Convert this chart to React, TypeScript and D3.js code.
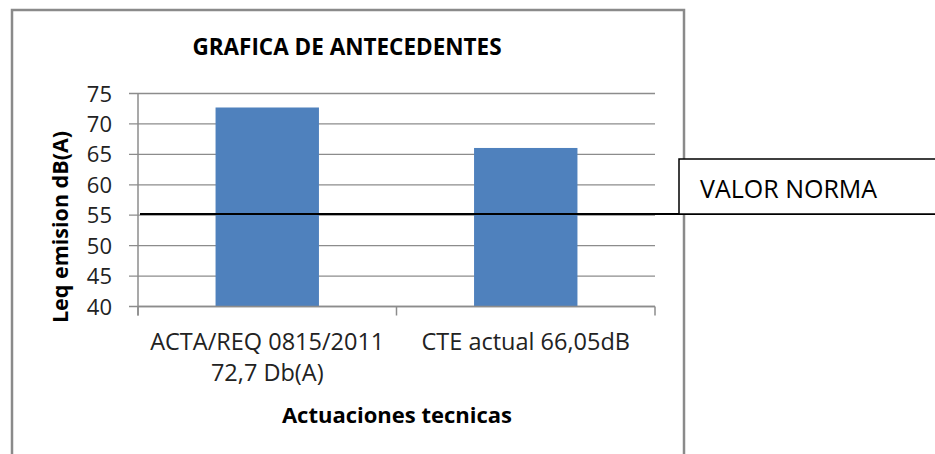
import React from 'react';
import * as d3 from 'd3';

// chart data
const categories = ['ACTA/REQ 0815/2011\n72,7 Db(A)', 'CTE actual 66,05dB'];
const values = [72.7, 66.05];
const yTicks = [40, 45, 50, 55, 60, 65, 70, 75];
const normValue = 55.2;
const normLabel = 'VALOR NORMA';
const title = 'GRAFICA DE ANTECEDENTES';
const yTitle = 'Leq emision dB(A)';
const xTitle = 'Actuaciones tecnicas';

const W = 935;
const H = 454;
const FONT = "'Open Sans', 'Noto Sans', sans-serif";
const GRID = '#8c8c8c';

export default function App() {
  // plot area
  const plot = { left: 138, right: 655, top: 93.5, bottom: 306.5 };

  const x = d3.scaleBand<string>()
    .domain(categories)
    .range([plot.left, plot.right])
    .paddingInner(0.6)
    .paddingOuter(0.3);

  // band used for tick marks / labels (no padding)
  const xCat = d3.scaleBand<string>()
    .domain(categories)
    .range([plot.left, plot.right]);

  const y = d3.scaleLinear()
    .domain([d3.min(yTicks)!, d3.max(yTicks)!])
    .range([plot.bottom, plot.top]);

  const normY = y(normValue);

  return (
    <div style={{ position: 'fixed', left: 0, top: 0 }}>
      <svg width={W} height={H} style={{ display: 'block', background: '#fff' }}>
        {/* outer chart frame */}
        <rect x={12} y={10} width={672} height={460} fill="#fff" stroke="#8a8a8a" strokeWidth={2.5} />

        <text x={347} y={55} textAnchor="middle" fontFamily={FONT} fontWeight="bold" fontSize={22.5} fill="#000">
          {title}
        </text>

        {/* gridlines + y ticks */}
        {yTicks.map(t => (
          <g key={t}>
            <line x1={plot.left - 9} x2={plot.right} y1={y(t)} y2={y(t)} stroke={GRID} strokeWidth={1.3} />
            <text x={112} y={y(t) + 8} textAnchor="end" fontFamily={FONT} fontSize={22} fill="#222">
              {t}
            </text>
          </g>
        ))}

        {/* bars */}
        {categories.map((c, i) => (
          <rect
            key={c}
            x={x(c)}
            y={y(values[i])}
            width={x.bandwidth()}
            height={plot.bottom - y(values[i])}
            fill="#4f81bd"
          />
        ))}

        {/* axes */}
        <line x1={plot.left} x2={plot.left} y1={plot.top} y2={plot.bottom + 9} stroke={GRID} strokeWidth={1.5} />
        <line x1={plot.left} x2={plot.right} y1={plot.bottom} y2={plot.bottom} stroke={GRID} strokeWidth={1.5} />
        {[...categories.map(c => xCat(c)!), plot.right].map((tx, i) => (
          <line key={i} x1={tx} x2={tx} y1={plot.bottom} y2={plot.bottom + 9} stroke={GRID} strokeWidth={1.5} />
        ))}

        {/* category labels */}
        {categories.map(c => (
          <text
            key={c}
            x={xCat(c)! + xCat.bandwidth() / 2}
            y={350}
            textAnchor="middle"
            fontFamily={FONT}
            fontSize={23.5}
            fill="#222"
          >
            {c.split('\n').map((line, j) => (
              <tspan key={j} x={xCat(c)! + xCat.bandwidth() / 2} dy={j === 0 ? 0 : 31}>
                {line}
              </tspan>
            ))}
          </text>
        ))}

        <text x={397} y={423} textAnchor="middle" fontFamily={FONT} fontWeight="bold" fontSize={22} fill="#000">
          {xTitle}
        </text>

        <text
          transform={`translate(68, 227) rotate(-90)`}
          textAnchor="middle"
          fontFamily={FONT}
          fontWeight="bold"
          fontSize={21.5}
          fill="#000"
        >
          {yTitle}
        </text>

        {/* norm reference line and its label box */}
        <line x1={plot.left + 2} x2={W} y1={normY} y2={normY} stroke="#000" strokeWidth={2} />
        <rect x={679} y={159} width={270} height={normY - 159} fill="#fff" stroke="#000" strokeWidth={1.5} />
        <text x={700} y={198} fontFamily={FONT} fontSize={25} fill="#000">
          {normLabel}
        </text>
      </svg>
    </div>
  );
}
